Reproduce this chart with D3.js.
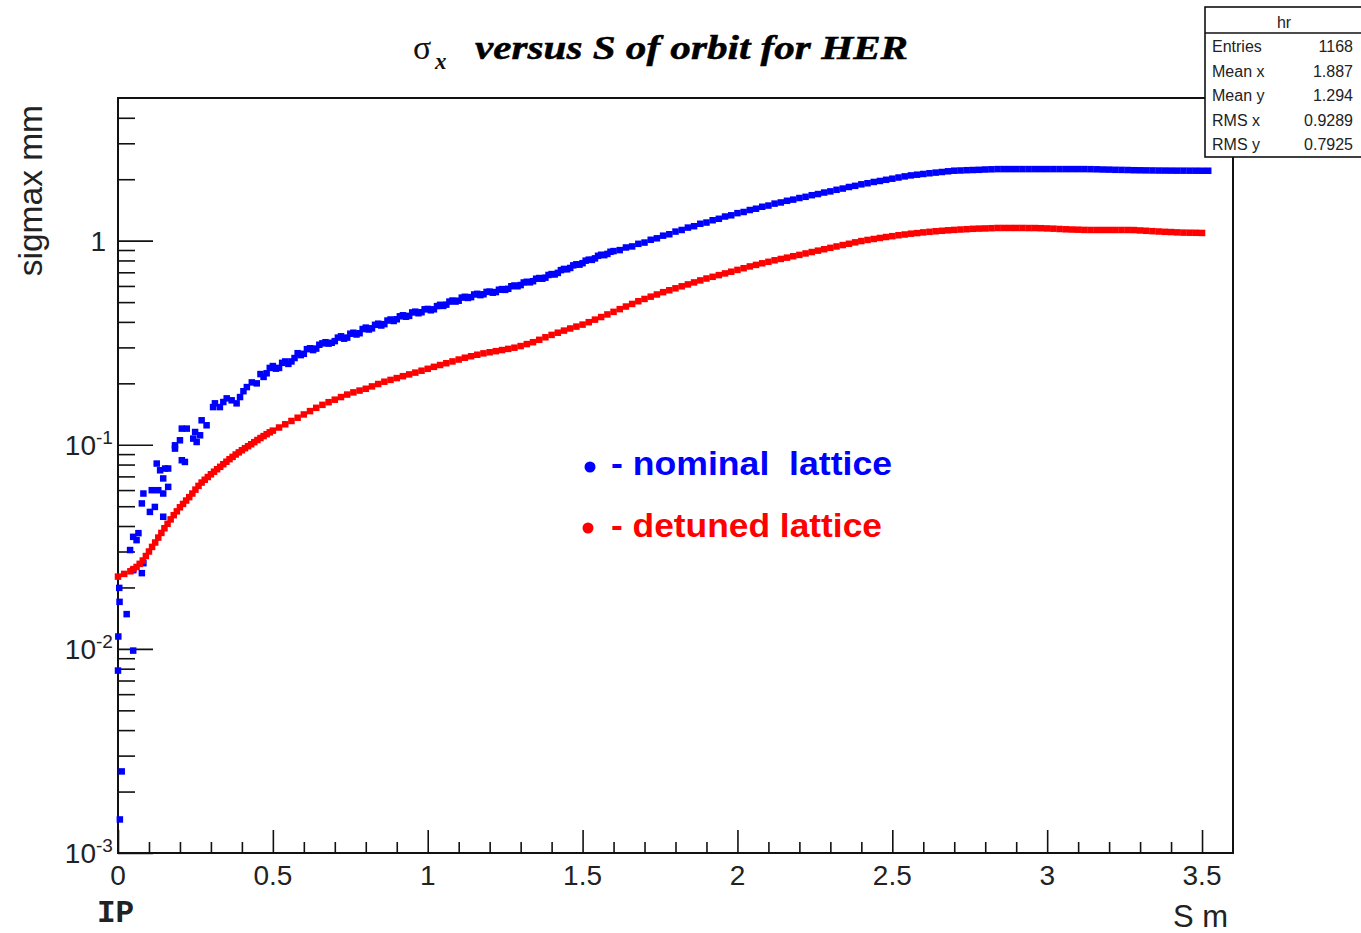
<!DOCTYPE html>
<html><head><meta charset="utf-8">
<script src="https://cdn.jsdelivr.net/npm/d3@7"></script>
<style>body{margin:0;background:#fff} svg{display:block}</style>
</head><body>
<svg id="c" width="1361" height="933"></svg>
<script>
// ---------- data ----------
// detuned lattice (red): S [m] and sigma_x [mm]
const detS = [0.00,0.02,0.04,0.06,0.08,0.10,0.12,0.14,0.16,0.18,0.20,0.22,0.24,0.26,0.28,0.30,0.32,0.34,0.36,0.38,
0.40,0.42,0.44,0.46,0.48,0.50,0.52,0.54,0.56,0.58,0.60,0.62,0.64,0.66,0.68,0.70,0.72,0.74,0.76,0.78,
0.80,0.82,0.84,0.86,0.88,0.90,0.92,0.94,0.96,0.98,1.00,1.02,1.04,1.06,1.08,1.10,1.12,1.14,1.16,1.18,
1.20,1.22,1.24,1.26,1.28,1.30,1.32,1.34,1.36,1.38,1.40,1.42,1.44,1.46,1.48,1.50,1.52,1.54,1.56,1.58,
1.60,1.62,1.64,1.66,1.68,1.70,1.72,1.74,1.76,1.78,1.80,1.82,1.84,1.86,1.88,1.90,1.92,1.94,1.96,1.98,
2.00,2.02,2.04,2.06,2.08,2.10,2.12,2.14,2.16,2.18,2.20,2.22,2.24,2.26,2.28,2.30,2.32,2.34,2.36,2.38,
2.40,2.42,2.44,2.46,2.48,2.50,2.52,2.54,2.56,2.58,2.60,2.62,2.64,2.66,2.68,2.70,2.72,2.74,2.76,2.78,
2.80,2.82,2.84,2.86,2.88,2.90,2.92,2.94,2.96,2.98,3.00,3.02,3.04,3.06,3.08,3.10,3.12,3.14,3.16,3.18,
3.20,3.22,3.24,3.26,3.28,3.30,3.32,3.34,3.36,3.38,3.40,3.42,3.44,3.46,3.48,3.50,
0.05,0.07,0.09,0.11,0.13,0.15,0.17,0.19,0.21,0.23,0.25,0.27,0.29,0.31,0.33,0.35,0.37,0.39,0.41,0.43,0.45,0.47,0.49];
const detSig = [0.0226,0.0233,0.0240,0.0252,0.0271,0.0300,0.0332,0.0370,0.0410,0.0452,0.0494,0.0533,0.0577,0.0629,0.0674,0.0717,0.0759,0.0803,0.0850,0.0896,
0.0940,0.0984,0.1030,0.1079,0.1127,0.1173,0.1215,0.1260,0.1308,0.1357,0.1408,0.1462,0.1517,0.1569,0.1617,0.1663,0.1713,0.1762,0.1806,0.1843,
0.1881,0.1932,0.1985,0.2037,0.2079,0.2122,0.2168,0.2212,0.2257,0.2306,0.2356,0.2409,0.2459,0.2509,0.2561,0.2616,0.2670,0.2715,0.2761,0.2805,
0.2840,0.2875,0.2911,0.2950,0.2990,0.3045,0.3114,0.3181,0.3268,0.3362,0.3454,0.3540,0.3626,0.3713,0.3793,0.3879,0.3987,0.4103,0.4225,0.4351,
0.4480,0.4619,0.4757,0.4898,0.5049,0.5181,0.5317,0.5450,0.5593,0.5715,0.5843,0.5976,0.6105,0.6245,0.6387,0.6526,0.6652,0.6780,0.6912,0.7045,
0.7190,0.7328,0.7478,0.7607,0.7745,0.7877,0.8013,0.8136,0.8257,0.8389,0.8517,0.8657,0.8796,0.8935,0.9077,0.9222,0.9367,0.9517,0.9656,0.9811,
0.9954,1.008,1.019,1.031,1.042,1.052,1.063,1.072,1.082,1.089,1.098,1.105,1.112,1.118,1.124,1.129,1.134,1.138,1.143,1.146,
1.148,1.151,1.154,1.154,1.154,1.154,1.154,1.153,1.153,1.151,1.148,1.145,1.141,1.137,1.134,1.132,1.129,1.128,1.128,1.128,
1.128,1.128,1.128,1.128,1.127,1.122,1.118,1.113,1.109,1.105,1.102,1.098,1.095,1.094,1.093,1.091,
0.0246,0.0261,0.0285,0.0316,0.0351,0.0390,0.0431,0.0472,0.0513,0.0554,0.0603,0.0653,0.0695,0.0738,0.0780,0.0826,0.0872,0.0918,0.0962,0.1006,0.1055,0.1103,0.1151];

// nominal lattice (blue): S [m] and sigma_x [mm]
const nomS = [0.000,0.001,0.004,0.005,0.006,0.012,0.028,0.039,0.049,0.049,0.049,0.060,0.066,0.077,0.077,0.082,0.082,0.103,0.109,0.119,
0.125,0.130,0.136,0.146,0.146,0.146,0.152,0.162,0.162,0.184,0.184,0.200,0.206,0.206,0.216,0.222,0.243,0.249,0.254,0.265,
0.270,0.286,0.307,0.313,0.329,0.340,0.351,0.367,0.383,0.394,0.405,0.416,0.432,0.448,
0.46,0.48,0.50,0.52,0.54,0.56,0.58,0.60,0.62,0.64,0.66,0.68,0.70,0.72,0.74,0.76,0.78,
0.80,0.82,0.84,0.86,0.88,0.90,0.92,0.94,0.96,0.98,1.00,1.02,1.04,1.06,1.08,1.10,1.12,1.14,1.16,1.18,
1.20,1.22,1.24,1.26,1.28,1.30,1.32,1.34,1.36,1.38,1.40,1.42,1.44,1.46,1.48,1.50,1.52,1.54,1.56,1.58,
1.60,1.62,1.64,1.66,1.68,1.70,1.72,1.74,1.76,1.78,1.80,1.82,1.84,1.86,1.88,1.90,1.92,1.94,1.96,1.98,
2.00,2.02,2.04,2.06,2.08,2.10,2.12,2.14,2.16,2.18,2.20,2.22,2.24,2.26,2.28,2.30,2.32,2.34,2.36,2.38,
2.40,2.42,2.44,2.46,2.48,2.50,2.52,2.54,2.56,2.58,2.60,2.62,2.64,2.66,2.68,2.70,2.72,2.74,2.76,2.78,
2.80,2.82,2.84,2.86,2.88,2.90,2.92,2.94,2.96,2.98,3.00,3.02,3.04,3.06,3.08,3.10,3.12,3.14,3.16,3.18,
3.20,3.22,3.24,3.26,3.28,3.30,3.32,3.34,3.36,3.38,3.40,3.42,3.44,3.46,3.48,3.50,3.52,
0.47,0.49,0.51,0.53,0.55,0.57,0.59,0.61,0.63,0.65,0.67,0.69,0.71,0.73,0.75,0.77,0.79,0.81,0.83,0.85,
0.87,0.89,0.91,0.93,0.95,0.97,0.99,1.01,1.03,1.05,1.07,1.09,1.11,1.13,1.15,1.17,1.19,1.21,1.23,1.25,
1.27,1.29,1.31,1.33,1.35,1.37,1.39,1.41,1.43,1.45,1.47,1.49,1.51,1.53,1.55,1.57,1.59];
const nomSig = [0.00783,0.0115,0.0199,0.0170,0.00146,0.00251,0.0148,0.0305,0.0243,0.0354,0.00981,0.0341,0.0369,0.0235,0.0516,0.0263,0.0577,0.0469,0.0599,0.0496,
0.0809,0.0599,0.0750,0.0577,0.0444,0.0684,0.0765,0.0622,0.0765,0.0958,0.0994,0.1052,0.0840,0.1200,0.0824,0.1200,0.1072,0.1155,0.1032,0.1113,
0.1318,0.1246,0.153,0.1596,0.1530,0.162,0.1688,0.1651,0.1596,0.1713,0.183,0.1917,0.2021,0.1999,
0.222,0.224,0.243,0.238,0.256,0.256,0.281,0.279,0.297,0.296,0.314,0.313,0.322,0.340,0.335,0.354,0.352,
0.375,0.372,0.392,0.390,0.411,0.412,0.431,0.428,0.449,0.446,0.463,0.461,0.485,0.486,0.509,0.508,0.531,0.529,0.549,0.546,
0.563,0.560,0.579,0.581,0.603,0.606,0.629,0.633,0.656,0.659,0.686,0.695,0.727,0.735,0.766,0.776,0.807,0.819,0.853,0.861,
0.889,0.899,0.926,0.937,0.965,0.979,1.010,1.027,1.058,1.075,1.108,1.128,1.159,1.177,1.210,1.227,1.259,1.280,1.313,1.331,
1.364,1.382,1.413,1.434,1.466,1.486,1.519,1.539,1.568,1.589,1.618,1.640,1.670,1.692,1.721,1.744,1.775,1.800,1.832,1.856,
1.888,1.911,1.939,1.961,1.987,2.012,2.039,2.065,2.088,2.105,2.122,2.139,2.155,2.170,2.187,2.202,2.207,2.214,2.219,2.224,
2.232,2.237,2.242,2.242,2.242,2.242,2.242,2.242,2.242,2.242,2.242,2.242,2.242,2.242,2.242,2.242,2.242,2.240,2.237,2.232,
2.229,2.224,2.222,2.219,2.214,2.212,2.210,2.208,2.206,2.205,2.204,2.203,2.203,2.202,2.202,2.201,2.201,
0.215,0.238,0.236,0.252,0.249,0.266,0.275,0.294,0.291,0.309,0.318,0.316,0.335,0.331,0.350,0.347,0.369,0.367,0.387,0.384,
0.406,0.404,0.426,0.424,0.445,0.441,0.461,0.456,0.478,0.479,0.503,0.503,0.526,0.524,0.545,0.541,0.561,0.556,0.575,0.574,
0.598,0.598,0.624,0.625,0.651,0.651,0.679,0.683,0.717,0.724,0.757,0.763,0.798,0.805,0.843,0.849,0.882];

const xMajor = [0,0.5,1,1.5,2,2.5,3,3.5];
const xLabels = ["0","0.5","1","1.5","2","2.5","3","3.5"];
const yMajor = [0.001,0.01,0.1,1];
const yLabels = [["10","-3"],["10","-2"],["10","-1"],["1",""]];
const statRows = [["Entries","1168"],["Mean x","1.887"],["Mean y","1.294"],["RMS x","0.9289"],["RMS y","0.7925"]];
const statTitle = "hr";
const legendItems = [["- nominal  lattice","#0000ff"],["- detuned lattice","#ff0000"]];

// ---------- layout ----------
const L = 118, R = 1233, T = 98, B = 853;
const x = d3.scaleLinear().domain([0,3.6]).range([L,R]);
const y = d3.scaleLog().domain([0.001,5]).range([B,T]);
const svg = d3.select("#c");
const SANS = "'Liberation Sans', Arial, Helvetica, sans-serif";
const SERIF = "'Liberation Serif','Times New Roman',serif";
const ink = "#111";

// minor ticks
const xMinor = d3.range(0,36).map(i=>i/10).filter(v=>Math.abs(v*2-Math.round(v*2))>1e-6);
const yMinor = [];
[0.001,0.01,0.1].forEach(d=>{for(let k=2;k<=9;k++) yMinor.push(k*d);});
[2,3,4].forEach(v=>yMinor.push(v));

function styleAxis(g){
  g.select(".domain").remove();
  g.selectAll("line").attr("stroke",ink).attr("stroke-width",1.6);
  g.selectAll("text").remove();
}
svg.append("g").attr("transform",`translate(0,${B})`)
  .call(d3.axisBottom(x).tickValues(xMajor).tickSizeInner(-23).tickSizeOuter(0)).call(styleAxis);
svg.append("g").attr("transform",`translate(0,${B})`)
  .call(d3.axisBottom(x).tickValues(xMinor).tickSizeInner(-11).tickSizeOuter(0)).call(styleAxis);
svg.append("g").attr("transform",`translate(${L},0)`)
  .call(d3.axisLeft(y).tickValues(yMajor).tickSizeInner(-35).tickSizeOuter(0)).call(styleAxis);
svg.append("g").attr("transform",`translate(${L},0)`)
  .call(d3.axisLeft(y).tickValues(yMinor).tickSizeInner(-17).tickSizeOuter(0)).call(styleAxis);

// frame
svg.append("rect").attr("x",L).attr("y",T).attr("width",R-L).attr("height",B-T)
  .attr("fill","none").attr("stroke",ink).attr("stroke-width",2);

// x labels
svg.append("g").selectAll("text").data(xMajor).join("text")
  .attr("x",d=>x(d)).attr("y",885).attr("text-anchor","middle")
  .attr("font-family",SANS).attr("font-size",28).attr("fill","#222")
  .text((d,i)=>xLabels[i]);

// y labels
svg.append("g").selectAll("text").data(yMajor).join("text")
  .attr("x",d=>d===1?106:96).attr("y",d=>y(d)+10).attr("text-anchor","end")
  .attr("font-family",SANS).attr("font-size",28).attr("fill","#222")
  .text((d,i)=>yLabels[i][0]);
svg.append("g").selectAll("text").data(yMajor.filter(d=>d!==1)).join("text")
  .attr("x",96).attr("y",d=>y(d)-1).attr("text-anchor","start")
  .attr("font-family",SANS).attr("font-size",19).attr("fill","#222")
  .text((d,i)=>yLabels[i][1]);

// axis titles
svg.append("text").attr("transform","translate(42,105) rotate(-90)").attr("text-anchor","end")
  .attr("font-family",SANS).attr("font-size",33.5).attr("fill","#222").text("sigmax mm");
svg.append("text").attr("x",1228).attr("y",927).attr("text-anchor","end")
  .attr("font-family",SANS).attr("font-size",31).attr("fill","#222").text("S m");
svg.append("text").attr("x",97).attr("y",922)
  .attr("font-family","'Liberation Mono','Courier New',monospace").attr("font-weight","bold")
  .attr("font-size",31).attr("fill","#222").text("IP");

// title
svg.append("text").attr("x",413).attr("y",59).attr("font-family",SERIF).attr("font-size",34)
  .attr("fill","#111").text("σ");
svg.append("text").attr("x",435).attr("y",69).attr("font-family",SERIF).attr("font-size",23)
  .attr("font-style","italic").attr("font-weight","bold").attr("fill","#111").text("x");
svg.append("text").attr("x",475).attr("y",59).attr("font-family",SERIF).attr("font-size",34.5)
  .attr("font-style","italic").attr("font-weight","bold").attr("fill","#000")
  .attr("stroke","#000").attr("stroke-width",0.5)
  .attr("textLength",433).attr("lengthAdjust","spacingAndGlyphs")
  .text("versus S of orbit for HER");

// data markers
const M = 6.5;
function drawSeries(sArr, vArr, color){
  svg.append("g").selectAll("rect").data(sArr.map((s,i)=>[s,vArr[i]])).join("rect")
    .attr("x",d=>x(d[0])-M/2).attr("y",d=>y(d[1])-M/2)
    .attr("width",M).attr("height",M).attr("fill",color);
}
drawSeries(nomS, nomSig, "#0000ff");
drawSeries(detS, detSig, "#ff0000");

// legend text
const lg = svg.append("g");
lg.selectAll("circle").data(legendItems).join("circle")
  .attr("cx",(d,i)=>i?588:590).attr("cy",(d,i)=>i?528:467).attr("r",5.5).attr("fill",d=>d[1]);
lg.selectAll("text").data(legendItems).join("text")
  .attr("x",611).attr("y",(d,i)=>i?537:475)
  .attr("font-family",SANS).attr("font-weight","bold").attr("font-size",33)
  .attr("textLength",(d,i)=>i?271:281).attr("lengthAdjust","spacingAndGlyphs")
  .attr("fill",d=>d[1]).style("white-space","pre").text(d=>d[0]);

// stats box
const sb = svg.append("g");
sb.append("rect").attr("x",1205).attr("y",7).attr("width",175).attr("height",150)
  .attr("fill","#fff").attr("stroke",ink).attr("stroke-width",1.6);
sb.append("line").attr("x1",1205).attr("x2",1380).attr("y1",33).attr("y2",33).attr("stroke",ink).attr("stroke-width",1.4);
sb.append("text").attr("x",1284).attr("y",28).attr("text-anchor","middle")
  .attr("font-family",SANS).attr("font-size",16).attr("fill","#222").text(statTitle);
statRows.forEach((r,i)=>{
  const yy = 52 + i*24.5;
  sb.append("text").attr("x",1212).attr("y",yy).attr("font-family",SANS).attr("font-size",16).attr("fill","#222").text(r[0]);
  sb.append("text").attr("x",1353).attr("y",yy).attr("text-anchor","end").attr("font-family",SANS).attr("font-size",16).attr("fill","#222").text(r[1]);
});
</script>
</body></html>
